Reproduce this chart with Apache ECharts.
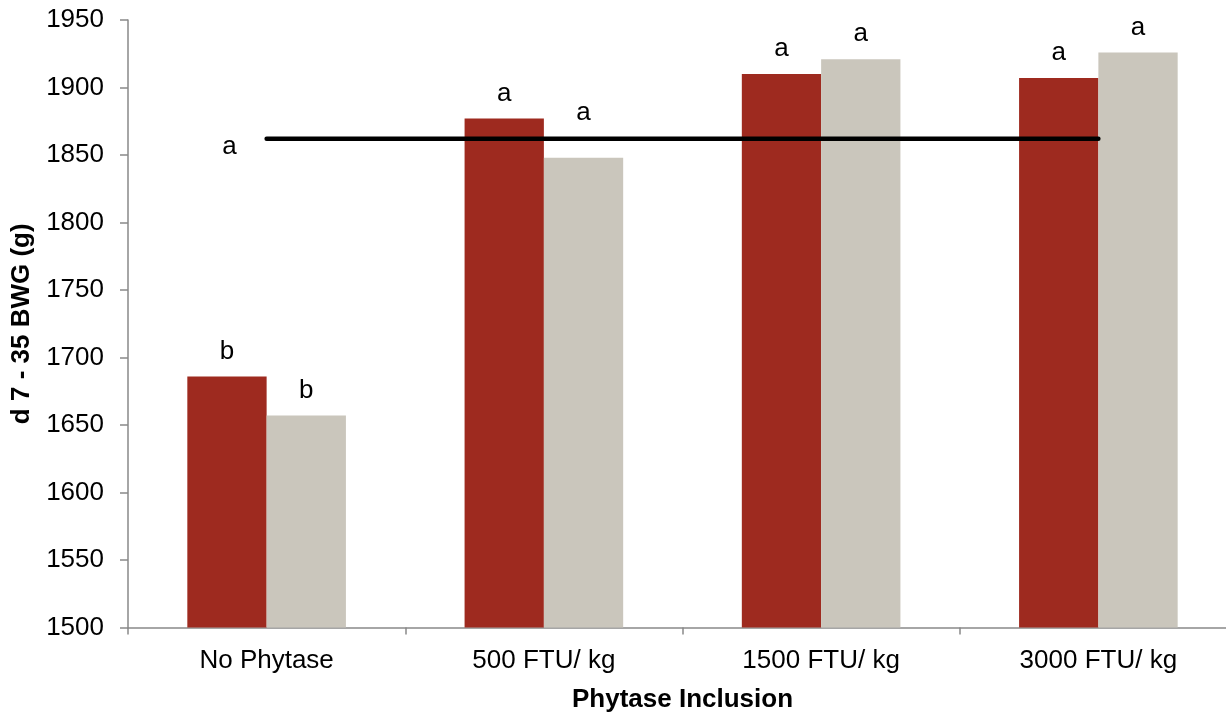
<!DOCTYPE html>
<html>
<head>
<meta charset="utf-8">
<script src="https://cdn.jsdelivr.net/npm/echarts@6/dist/echarts.min.js"></script>
<style>
html,body{margin:0;padding:0;background:#fff;}
#chart{width:1226px;height:714px;}
</style>
</head>
<body>
<div id="chart"></div>
<script>
const categories = ['No Phytase', '500 FTU/ kg', '1500 FTU/ kg', '3000 FTU/ kg'];
const seriesA = [1686, 1877, 1910, 1907];
const seriesB = [1657, 1848, 1921, 1926];
const lettersA = ['b', 'a', 'a', 'a'];
const lettersB = ['b', 'a', 'a', 'a'];
const refLine = [1862, 1862, 1862, 1862];
const refLetter = 'a';
const yTicks = {min: 1500, max: 1950, interval: 50};

const font = '"Liberation Sans", Arial, sans-serif';
const axisColor = '#898989';
const fs = 26;

const chart = echarts.init(document.getElementById('chart'));

// letters sitting just under the reference line are lifted clear of it
function barData(vals, letters) {
  return vals.map((v, i) => {
    const lift = (v < refLine[i] && v > refLine[i] - 30) ? 32 : 12;
    return {value: v, label: {formatter: letters[i], distance: lift}};
  });
}

chart.setOption({
  animation: false,
  grid: {left: 128, top: 20, width: 1109, height: 607.5, outerBoundsMode: 'none', containLabel: false},
  xAxis: {
    type: 'category',
    data: categories,
    name: 'Phytase Inclusion',
    nameLocation: 'middle',
    nameGap: 59,
    nameTextStyle: {fontFamily: font, fontSize: fs, fontWeight: 'bold', color: '#000'},
    axisLine: {lineStyle: {color: axisColor, width: 1.5}},
    axisTick: {show: true, length: 7, lineStyle: {color: axisColor, width: 1.5}},
    axisLabel: {fontFamily: font, fontSize: fs, color: '#000', margin: 20},
    splitLine: {show: false}
  },
  yAxis: {
    type: 'value',
    min: yTicks.min,
    max: yTicks.max,
    interval: yTicks.interval,
    name: 'd 7 - 35 BWG (g)',
    nameLocation: 'middle',
    nameGap: 87,
    nameTextStyle: {fontFamily: font, fontSize: fs, fontWeight: 'bold', color: '#000'},
    axisLine: {show: true, lineStyle: {color: axisColor, width: 1.5}},
    axisTick: {show: true, length: 8, lineStyle: {color: axisColor, width: 1.5}},
    axisLabel: {fontFamily: font, fontSize: fs, color: '#000', margin: 24, formatter: v => String(v)},
    splitLine: {show: false}
  },
  series: [
    {
      type: 'bar',
      data: barData(seriesA, lettersA),
      barWidth: 79.3,
      barGap: '0%',
      itemStyle: {color: '#9E2A1F'},
      label: {show: true, position: 'top', distance: 12, fontFamily: font, fontSize: fs, color: '#000'},
      z: 2
    },
    {
      type: 'bar',
      data: barData(seriesB, lettersB),
      barWidth: 79.3,
      barGap: '0%',
      itemStyle: {color: '#CAC6BC'},
      label: {show: true, position: 'top', distance: 12, fontFamily: font, fontSize: fs, color: '#000'},
      z: 2
    },
    {
      type: 'line',
      data: refLine.map((v, i) => i === 0 ? {value: v, label: {show: true, formatter: refLetter, position: 'left', distance: 30, offset: [0, 8], fontFamily: font, fontSize: fs, color: '#000'}} : v),
      symbol: 'circle',
      symbolSize: 0,
      showSymbol: true,
      lineStyle: {color: '#000', width: 4.5, cap: 'round'},
      itemStyle: {color: '#000'},
      z: 5
    }
  ]
});
</script>
</body>
</html>
